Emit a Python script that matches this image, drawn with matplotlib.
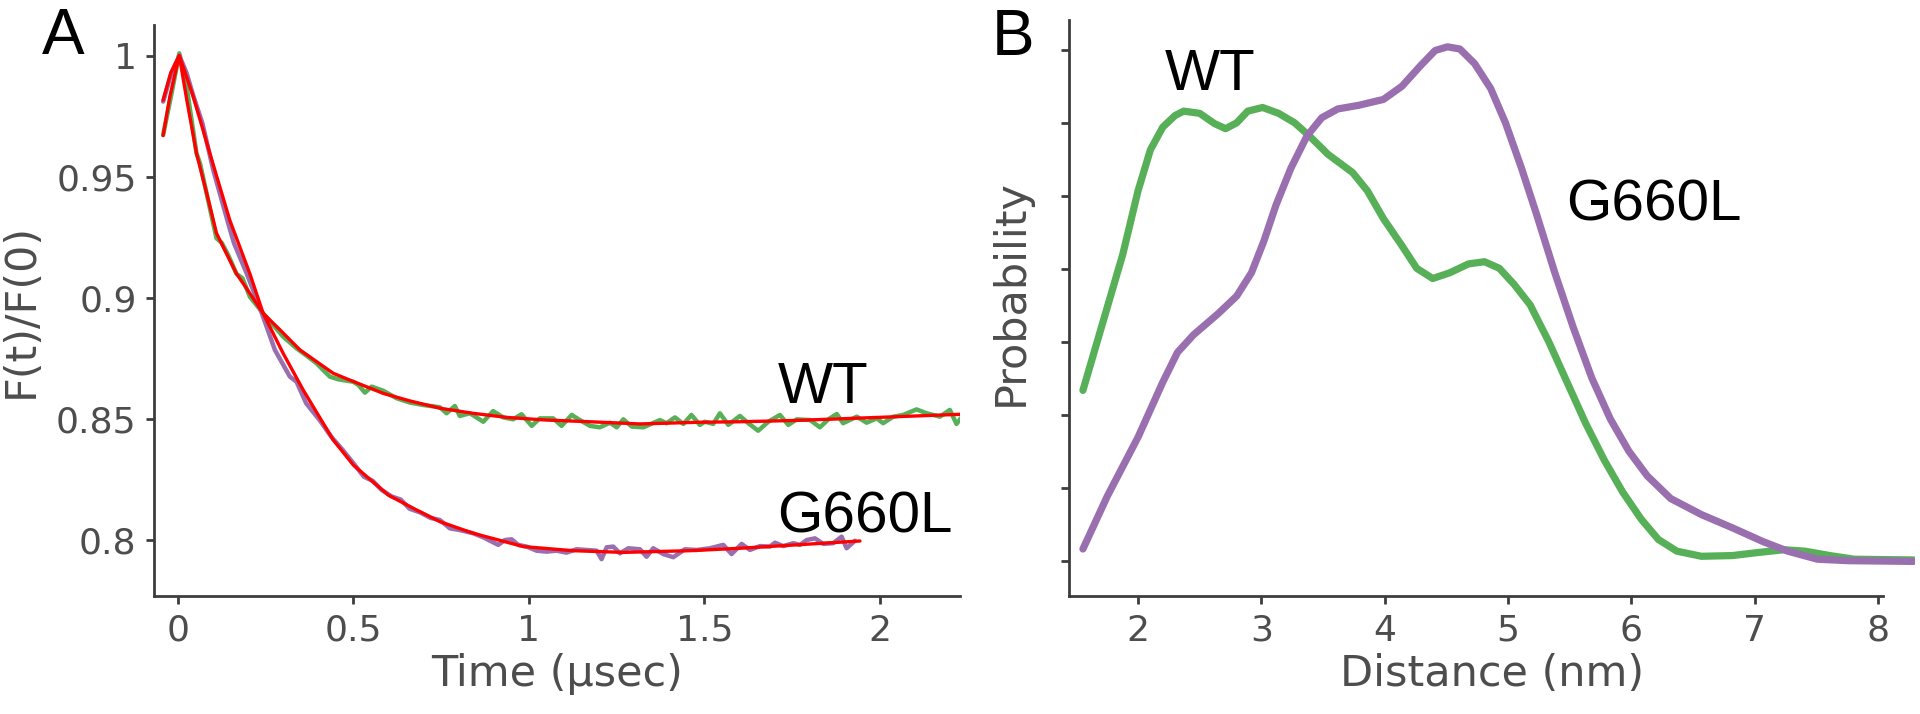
import matplotlib
matplotlib.use("Agg")
import matplotlib.pyplot as plt

# ---- panel A: fluorescence decay ----
wt_t = [-0.042, -0.018, 0.004, 0.025, 0.053, 0.063, 0.086, 0.110, 0.1245, 0.1433, 0.167, 0.184,
        0.205, 0.243, 0.300, 0.338, 0.371, 0.395, 0.433, 0.457, 0.4995, 0.514, 0.533, 0.552,
        0.585, 0.623, 0.661, 0.699, 0.746, 0.7655, 0.789, 0.803, 0.832, 0.870, 0.898, 0.927,
        0.955, 0.979, 1.008, 1.031, 1.069, 1.093, 1.122, 1.145, 1.174, 1.202, 1.231, 1.250,
        1.269, 1.293, 1.326, 1.345, 1.373, 1.392, 1.416, 1.440, 1.463, 1.487, 1.501, 1.525,
        1.544, 1.568, 1.601, 1.625, 1.653, 1.682, 1.715, 1.739, 1.763, 1.801, 1.829, 1.853,
        1.877, 1.895, 1.934, 1.962, 1.991, 2.009, 2.038, 2.066, 2.104, 2.133, 2.171, 2.199,
        2.218, 2.234]
wt_f = [0.9672, 0.9844, 1.0009, 0.9871, 0.9597, 0.9555, 0.9404, 0.9246, 0.9228, 0.9177, 0.9099, 0.9081,
        0.9005, 0.8936, 0.8840, 0.8792, 0.8757, 0.8730, 0.8675, 0.8664, 0.8654, 0.8641, 0.8609, 0.8634,
        0.8617, 0.8586, 0.8568, 0.8558, 0.8549, 0.8524, 0.8554, 0.8513, 0.8524, 0.8489, 0.8533, 0.8507,
        0.8499, 0.8520, 0.8472, 0.8503, 0.8503, 0.8472, 0.8517, 0.8496, 0.8472, 0.8466, 0.8485, 0.8466,
        0.8499, 0.8469, 0.8466, 0.8478, 0.8496, 0.8483, 0.8507, 0.8480, 0.8517, 0.8476, 0.8489, 0.8480,
        0.8524, 0.8476, 0.8513, 0.8483, 0.8452, 0.8489, 0.8517, 0.8476, 0.8499, 0.8496, 0.8466, 0.8499,
        0.8521, 0.8483, 0.8510, 0.8485, 0.8503, 0.8483, 0.8510, 0.8517, 0.8540, 0.8524, 0.8510, 0.8538,
        0.8480, 0.8510]

g660l_t = [-0.042, -0.02, 0.004, 0.025, 0.044, 0.07, 0.1007, 0.1433, 0.16, 0.196, 0.229, 0.2764,
           0.3191, 0.338, 0.3655, 0.4037, 0.437, 0.47, 0.50, 0.53, 0.555, 0.58, 0.61, 0.635,
           0.66, 0.69, 0.72, 0.746, 0.775, 0.803, 0.841, 0.870, 0.889, 0.9126, 0.9316, 0.9506,
           0.9696, 0.9934, 1.0218, 1.0503, 1.0788, 1.1073, 1.1358, 1.1643, 1.1928, 1.207, 1.2213,
           1.2403, 1.2593, 1.283, 1.3162, 1.3352, 1.3542, 1.3827, 1.4112, 1.4444, 1.4777, 1.5157,
           1.5537, 1.5774, 1.6059, 1.6296, 1.6581, 1.6866, 1.7009, 1.7246, 1.7531, 1.7721, 1.7911,
           1.8148, 1.8385, 1.867, 1.8908, 1.905, 1.9288]
g660l_f = [0.981, 0.992, 1.0, 0.9927, 0.9834, 0.972, 0.9528, 0.9308, 0.9225, 0.9101, 0.8978, 0.8785,
           0.8675, 0.8654, 0.8565, 0.8496, 0.8427, 0.8372, 0.8318, 0.8262, 0.8245, 0.8208, 0.8180, 0.8168,
           0.8130, 0.8115, 0.8092, 0.8084, 0.8049, 0.8042, 0.8029, 0.8012, 0.7998, 0.7981, 0.8001, 0.8004,
           0.7981, 0.7974, 0.7957, 0.7953, 0.7957, 0.7949, 0.7963, 0.7960, 0.7957, 0.7922, 0.7971,
           0.7974, 0.7946, 0.7967, 0.7963, 0.7932, 0.7967, 0.7943, 0.7930, 0.7963, 0.7960, 0.7967,
           0.7981, 0.7943, 0.7985, 0.7960, 0.7976, 0.7974, 0.7990, 0.7976, 0.7988, 0.7981, 0.8001,
           0.8008, 0.7985, 0.7988, 0.8015, 0.7967, 0.7998]

# fits (red)
fit_wt_t = [-0.042, -0.023, 0.004, 0.025, 0.053, 0.082, 0.110, 0.138, 0.167, 0.205, 0.243, 0.291,
            0.348, 0.4425, 0.50, 0.585, 0.661, 0.746, 0.84, 0.936, 1.05, 1.174, 1.316, 1.487,
            1.601, 1.75, 1.867, 2.05, 2.234]
fit_wt_f = [0.967, 0.983, 1.0, 0.982, 0.9597, 0.9432, 0.9267, 0.9184, 0.910, 0.9019, 0.8936, 0.8868,
            0.8785, 0.8689, 0.8655, 0.8606, 0.8575, 0.8545, 0.8524, 0.8507, 0.8496, 0.8489, 0.848, 0.8487,
            0.8489, 0.8494, 0.850, 0.851, 0.852]
fit_g660l_t = [-0.042, -0.02, 0.004, 0.044, 0.091, 0.148, 0.205, 0.243, 0.300, 0.357, 0.4425, 0.50,
               0.60, 0.68, 0.746, 0.841, 0.984, 1.126, 1.269, 1.459, 1.601, 1.75, 1.943]
fit_g660l_f = [0.9816, 0.993, 1.0, 0.983, 0.9597, 0.932, 0.910, 0.8936, 0.8771, 0.862, 0.8414, 0.831,
               0.8186, 0.8125, 0.8077, 0.8029, 0.7974, 0.7957, 0.795, 0.7957, 0.7967, 0.7980, 0.7997]

# ---- panel B: distance distributions ----
wt_r = [1.553, 1.876, 2.0, 2.10, 2.20, 2.30, 2.37, 2.50, 2.62, 2.71, 2.80, 2.89, 3.01, 3.14,
        3.27, 3.39, 3.54, 3.74, 3.86, 3.99, 4.14, 4.26, 4.39, 4.53, 4.68, 4.81, 4.93, 5.05,
        5.18, 5.33, 5.48, 5.63, 5.78, 5.93, 6.08, 6.22, 6.37, 6.57, 6.82, 7.02, 7.24, 7.41,
        7.61, 7.81, 8.29]
wt_p = [2.34, 4.20, 5.07, 5.63, 5.94, 6.10, 6.16, 6.13, 5.99, 5.92, 6.00, 6.16, 6.21, 6.13,
        6.00, 5.82, 5.57, 5.32, 5.07, 4.69, 4.32, 4.01, 3.87, 3.95, 4.07, 4.10, 4.01, 3.79,
        3.51, 3.01, 2.45, 1.89, 1.39, 0.95, 0.58, 0.30, 0.14, 0.07, 0.08, 0.12, 0.16, 0.14,
        0.08, 0.03, 0.02]
g660l_r = [1.553, 1.75, 2.0, 2.20, 2.32, 2.45, 2.65, 2.80, 2.92, 3.02, 3.12, 3.24, 3.37, 3.49,
           3.62, 3.79, 3.99, 4.14, 4.29, 4.41, 4.51, 4.61, 4.73, 4.86, 4.98, 5.11, 5.23, 5.38,
           5.53, 5.68, 5.83, 5.98, 6.13, 6.32, 6.57, 6.82, 7.07, 7.27, 7.51, 7.76, 8.29]
g660l_p = [0.17, 0.89, 1.70, 2.45, 2.86, 3.10, 3.39, 3.63, 3.95, 4.38, 4.88, 5.38, 5.82, 6.07,
           6.19, 6.24, 6.32, 6.50, 6.78, 6.99, 7.04, 7.01, 6.81, 6.47, 6.00, 5.38, 4.76, 3.95,
           3.20, 2.51, 1.95, 1.51, 1.17, 0.86, 0.64, 0.46, 0.27, 0.14, 0.03, 0.01, 0.0]

green = "#57b057"
purple = "#9a6fb0"
grey = "#3d3d3d"
tick_grey = "#4d4d4d"

plt.rcParams["font.family"] = "DejaVu Sans"

fig = plt.figure(figsize=(19.2, 7.14), dpi=100)
ax1 = fig.add_axes([0.08021, 0.16457, 0.41979, 0.80042])
ax2 = fig.add_axes([0.55677, 0.16457, 0.44053, 0.80672])

line_kw = dict(solid_capstyle="round", solid_joinstyle="round")

# panel A
ax1.plot(wt_t, wt_f, color=green, lw=3.2, **line_kw)
ax1.plot(g660l_t, g660l_f, color=purple, lw=3.2, **line_kw)
ax1.plot(fit_wt_t, fit_wt_f, color="red", lw=2.4, **line_kw)
ax1.plot(fit_g660l_t, fit_g660l_f, color="red", lw=2.4, **line_kw)
ax1.set_xlim(-0.068, 2.228)
ax1.set_ylim(0.7768, 1.0126)
ax1.set_xticks([0, 0.5, 1, 1.5, 2])
ax1.set_xticklabels(["0", "0.5", "1", "1.5", "2"])
ax1.set_yticks([0.8, 0.85, 0.9, 0.95, 1.0])
ax1.set_yticklabels(["0.8", "0.85", "0.9", "0.95", "1"])
ax1.set_xlabel("Time (µsec)", fontsize=31, color=tick_grey, labelpad=4)
ax1.set_ylabel("F(t)/F(0)", fontsize=31, color=tick_grey, labelpad=10)
ax1.text(1.709, 0.8566, "WT", fontsize=42, family="Liberation Sans")
ax1.text(1.707, 0.8034, "G660L", fontsize=42, family="Liberation Sans")

# panel B
ax2.plot(wt_r, wt_p, color=green, lw=5.2, **line_kw)
ax2.plot(g660l_r, g660l_p, color=purple, lw=5.2, **line_kw)
ax2.set_xlim(1.44, 8.3)
ax2.set_ylim(-0.48, 7.40)
ax2.set_xticks([2, 3, 4, 5, 6, 7, 8])
ax2.set_yticks(range(8))
ax2.set_yticklabels([])
ax2.spines["bottom"].set_bounds(1.44, 8.04)
ax2.set_xlabel("Distance (nm)", fontsize=31, color=tick_grey, labelpad=4)
ax2.set_ylabel("Probability", fontsize=31, color=tick_grey)
ax2.yaxis.set_label_coords(-0.044, 0.527)
ax2.text(2.22, 6.45, "WT", fontsize=42, family="Liberation Sans")
ax2.text(5.47, 4.67, "G660L", fontsize=42, family="Liberation Sans")

for ax in (ax1, ax2):
    for s in ("top", "right"):
        ax.spines[s].set_visible(False)
    for s in ("left", "bottom"):
        ax.spines[s].set_color(grey)
        ax.spines[s].set_linewidth(2)
    ax.tick_params(length=5.5, width=2, color=grey, labelsize=26,
                   labelcolor=tick_grey, pad=7)

fig.text(0.0219, 0.9244, "A", fontsize=46, family="Liberation Sans")
fig.text(0.5167, 0.923, "B", fontsize=46, family="Liberation Sans")

fig.savefig("out.png", dpi=100)
